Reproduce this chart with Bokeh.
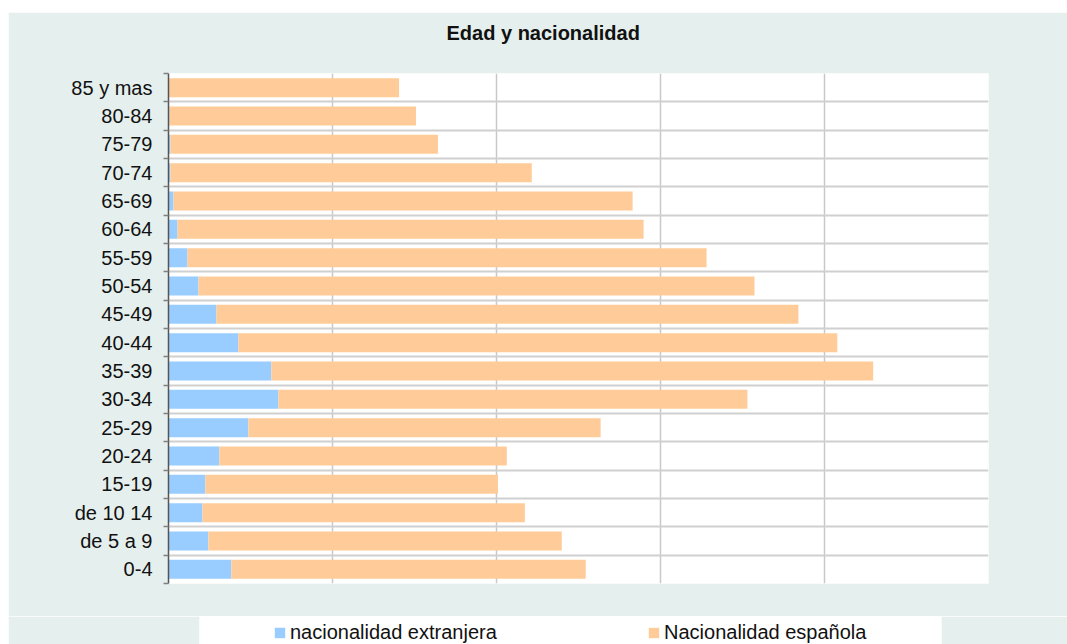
from bokeh.plotting import figure
from bokeh.layouts import row, column
from bokeh.models import (FixedTicker, Legend, LegendItem, ColumnDataSource,
                          Range1d, Spacer, Title)
from bokeh.embed import file_html
from bokeh.resources import INLINE

categories = ["0-4", "de 5 a 9", "de 10 14", "15-19", "20-24", "25-29", "30-34",
              "35-39", "40-44", "45-49", "50-54", "55-59", "60-64", "65-69",
              "70-74", "75-79", "80-84", "85 y mas"]
extranjera = [38.3, 24.3, 20.7, 22.5, 31.0, 48.7, 67.0, 62.7, 42.6, 29.2,
              18.3, 11.6, 5.5, 3.0, 1.2, 1.2, 0.6, 0.3]
espanola = [216.1, 215.5, 196.6, 178.4, 175.3, 214.8, 286.0, 367.0, 365.2, 354.9,
            339.0, 316.5, 284.2, 280.0, 220.3, 163.1, 150.3, 140.3]
series = ["nacionalidad extranjera", "Nacionalidad española"]
colors = ["#99CCFF", "#FFCC99"]
title_text = "Edad y nacionalidad"

FONT = "Liberation Sans"
PANEL = "#E5EFED"

n = len(categories)
src = ColumnDataSource(data={
    "y": list(range(n)),
    "cat": categories,
    series[0]: extranjera,
    series[1]: espanola,
})

# ---------------- main chart ----------------
p = figure(width=1059, height=604, title=None,
           x_range=Range1d(0, 500), y_range=Range1d(-0.5, n - 0.5),
           output_backend="svg", toolbar_location=None,
           min_border_left=160, min_border_right=79,
           min_border_top=61, min_border_bottom=33,
           border_fill_color=PANEL, background_fill_color="white",
           outline_line_color=None)
p.frame_align = False

renderers = p.hbar_stack(series, y="y", height=0.67, source=src,
                         fill_color=colors, line_color=None)

p.xaxis.visible = False
yax = p.yaxis[0]
yax.ticker = FixedTicker(ticks=list(range(n)),
                         minor_ticks=[i - 0.5 for i in range(n + 1)])
yax.major_label_overrides = {i: c for i, c in enumerate(categories)}
yax.major_tick_line_color = None
yax.major_tick_out = 0
yax.major_tick_in = 0
yax.minor_tick_out = 5
yax.minor_tick_in = 0
yax.minor_tick_line_color = "#808080"
yax.minor_tick_line_width = 1.5
yax.axis_line_color = "#555555"
yax.axis_line_width = 1.5
yax.major_label_standoff = 11
yax.major_label_text_font = FONT
yax.major_label_text_font_size = "20px"
yax.major_label_text_color = "#111111"

p.ygrid.ticker = FixedTicker(ticks=[i + 0.5 for i in range(n - 1)])
p.ygrid.grid_line_color = "#D0D0D0"
p.ygrid.grid_line_width = 2
p.xgrid.ticker = FixedTicker(ticks=[100, 200, 300, 400])
p.xgrid.grid_line_color = "#C8C8C8"
p.xgrid.grid_line_width = 1.5

# spacer title (nearest the frame), then the real title above it
p.add_layout(Title(text=" ", text_font=FONT, text_font_size="20px",
                   standoff=6), "above")
p.add_layout(Title(text=title_text, text_font=FONT, text_font_size="20px",
                   text_font_style="bold", text_color="#111111",
                   align="left", offset=278, standoff=0), "above")

# ---------------- legend strip ----------------
pl = figure(width=1059, height=28,
            x_range=Range1d(0, 500), y_range=Range1d(1000, 1001),
            output_backend="svg", toolbar_location=None,
            x_axis_location=None, y_axis_location=None,
            min_border_left=191, min_border_right=126,
            min_border_top=0, min_border_bottom=0,
            border_fill_color=PANEL, background_fill_color="white",
            outline_line_color=None)
pl.frame_align = False
pl.xgrid.visible = False
pl.ygrid.visible = False
leg_renderers = pl.hbar_stack(series, y="y", height=0.67, source=src,
                              fill_color=colors, line_color=None)

legend = Legend(items=[LegendItem(label=series[0], renderers=[leg_renderers[0]]),
                       LegendItem(label=series[1], renderers=[leg_renderers[1]])],
                location=(74, 0), orientation="horizontal",
                padding=0, margin=0, spacing=0,
                glyph_width=13, glyph_height=13,
                label_standoff=4, label_width=357, label_height=20,
                label_text_font=FONT, label_text_font_size="20px",
                label_text_color="#111111",
                background_fill_alpha=0, border_line_color=None)
pl.add_layout(legend, "center")

layout = row(Spacer(width=8, height=644),
             column(Spacer(width=1059, height=12), p, pl))

open("out.html", "w").write(file_html(layout, INLINE))
